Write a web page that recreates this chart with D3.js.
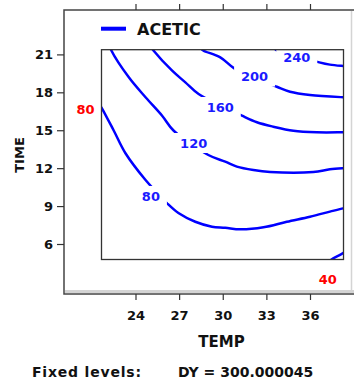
<!DOCTYPE html>
<html>
<head>
<meta charset="utf-8">
<script src="https://cdn.jsdelivr.net/npm/d3@7"></script>
<style>
  body { margin: 0; background: #fff; }
  text { font-family: "DejaVu Sans", sans-serif; font-weight: bold; }
</style>
</head>
<body>
<div id="container"></div>
<script>
// ticks
const tempTicks = [24, 27, 30, 33, 36]
const timeTicks = [6, 9, 12, 15, 18, 21]

// contour lines, [TEMP, TIME]
const levels = [40, 80, 120, 160, 200, 240]
const contour40 = [[37.2, 4.55], [37.6, 4.87], [38.0, 5.1], [38.45, 5.4]]
const contour80 = [[21.6, 16.9], [21.72, 16.68], [22.51, 14.96], [23.31, 13.18], [24.69, 11.06], [25.44, 10.11],
  [26.17, 9.22], [26.95, 8.45], [28.11, 7.76], [29.26, 7.37], [30.17, 7.29], [31.2, 7.16], [32.8, 7.32],
  [34.4, 7.76], [36.0, 8.16], [37.37, 8.56], [38.28, 8.82], [38.5, 8.87]]
const contour120 = [[22.3, 21.45], [22.35, 21.29], [23.54, 19.19], [24.69, 17.61], [25.83, 16.15], [26.63, 14.96],
  [29.01, 13.04], [30.17, 12.51], [30.97, 12.12], [32.11, 11.85], [33.26, 11.7], [36.23, 11.7], [37.37, 11.91],
  [38.28, 11.99], [38.5, 12.0]]
const contour160 = [[25.15, 21.45], [25.25, 21.29], [26.52, 19.71], [27.43, 18.79], [28.34, 17.87], [31.32, 16.15],
  [32.35, 15.63], [33.48, 15.28], [34.86, 14.96], [36.46, 14.84], [38.28, 14.84], [38.5, 14.84]]
const contour200 = [[28.55, 21.4], [28.68, 21.29], [29.83, 20.77], [30.86, 19.84], [33.72, 18.44], [34.63, 18.05],
  [36.0, 17.79], [38.28, 17.61], [38.5, 17.6]]
const contour240 = [[33.6, 21.45], [33.67, 21.35], [36.64, 20.37], [37.37, 20.19], [38.28, 20.08], [38.5, 20.06]]
const contours = [contour40, contour80, contour120, contour160, contour200, contour240]

// inline labels (blue) and edge labels (red), [TEMP, TIME]
const inlineLevels = [80, 120, 160, 200, 240]
const inlineAt = [[25.06, 9.8], [28.0, 13.99], [29.83, 16.84], [32.19, 19.25], [35.09, 20.74]]
const edgeLevels = [80, 40]
const edgeAt = [[20.57, 16.64], [37.23, 3.19]]

const width = 354
const height = 381
const frame = { left: 64, top: 10, right: 352, bottom: 294 }
const plot = { left: 101.5, top: 49.7, right: 343.5, bottom: 259.5 }

const svg = d3.select('#container')
  .append('svg')
  .attr('width', width)
  .attr('height', height)
  .attr('viewBox', [0, 0, width, height])

const x = d3.scaleLinear().domain([24, 36]).range([135.5, 310])
const y = d3.scaleLinear().domain([6, 21]).range([244, 54.4])

// outer frame
svg.append('rect')
  .attr('x', frame.left).attr('y', frame.top)
  .attr('width', width - frame.left + 2).attr('height', frame.bottom - frame.top)
  .attr('fill', 'white')
  .attr('stroke', '#444')
  .attr('stroke-width', 1.5)
svg.append('line')
  .attr('x1', frame.left + 1).attr('x2', width)
  .attr('y1', frame.bottom - 2.5).attr('y2', frame.bottom - 2.5)
  .attr('stroke', '#d4d4d4').attr('stroke-width', 3)
svg.append('line')
  .attr('x1', frame.right - 0.5).attr('x2', frame.right - 0.5)
  .attr('y1', frame.top + 1).attr('y2', frame.bottom - 1)
  .attr('stroke', '#d4d4d4').attr('stroke-width', 1.5)

// axes
svg.append('g')
  .attr('transform', `translate(0,${frame.bottom})`)
  .call(d3.axisBottom(x).tickValues(tempTicks).tickSize(6).tickPadding(11))
svg.append('g')
  .attr('transform', `translate(0,${frame.top})`)
  .call(d3.axisTop(x).tickValues(tempTicks).tickSize(6).tickFormat(''))
svg.append('g')
  .attr('transform', `translate(${frame.left},0)`)
  .call(d3.axisLeft(y).tickValues(timeTicks).tickSize(7).tickPadding(4))

svg.selectAll('.domain').remove()
svg.selectAll('.tick line').attr('stroke', '#333').attr('stroke-width', 1.2)
svg.selectAll('.tick text')
  .style('font-family', '"DejaVu Sans", sans-serif')
  .style('font-weight', 'bold')
  .style('font-size', '13px')
  .attr('fill', '#111')

// axis titles
svg.append('text')
  .attr('transform', `translate(24,155) rotate(-90)`)
  .attr('text-anchor', 'middle')
  .style('font-size', '13px')
  .attr('fill', '#111')
  .text('TIME')
svg.append('text')
  .attr('x', 221.5).attr('y', 347)
  .attr('text-anchor', 'middle')
  .style('font-size', '15px')
  .attr('fill', '#111')
  .text('TEMP')

// legend
svg.append('line')
  .attr('x1', 101).attr('x2', 126)
  .attr('y1', 28.7).attr('y2', 28.7)
  .attr('stroke', '#0000ff').attr('stroke-width', 4)
svg.append('text')
  .attr('x', 137).attr('y', 35)
  .style('font-size', '16px')
  .attr('fill', '#111')
  .text('ACETIC')

// contours
svg.append('clipPath').attr('id', 'clip')
  .append('rect')
  .attr('x', plot.left).attr('y', plot.top)
  .attr('width', plot.right - plot.left).attr('height', plot.bottom - plot.top)

const line = d3.line()
  .x(d => x(d[0]))
  .y(d => y(d[1]))
  .curve(d3.curveCatmullRom)

svg.append('g')
  .attr('clip-path', 'url(#clip)')
  .selectAll('path')
  .data(contours)
  .join('path')
  .attr('d', line)
  .attr('fill', 'none')
  .attr('stroke', '#0000ff')
  .attr('stroke-width', 2.5)

// inline labels, with a white box cutting the line
const lab = svg.append('g')
  .selectAll('g')
  .data(inlineLevels)
  .join('g')
  .attr('transform', (d, i) => `translate(${x(inlineAt[i][0])},${y(inlineAt[i][1])})`)
lab.append('rect')
  .attr('x', d => -String(d).length * 4.5 - 7)
  .attr('y', -10)
  .attr('width', d => String(d).length * 9 + 14)
  .attr('height', 20)
  .attr('fill', 'white')
lab.append('text')
  .attr('text-anchor', 'middle')
  .attr('dy', '0.36em')
  .style('font-size', '13px')
  .attr('fill', '#1a1aff')
  .text(d => d)

// plot box
svg.append('rect')
  .attr('x', plot.left).attr('y', plot.top)
  .attr('width', plot.right - plot.left).attr('height', plot.bottom - plot.top)
  .attr('fill', 'none')
  .attr('stroke', '#333')
  .attr('stroke-width', 1.3)

// edge labels
svg.append('g')
  .selectAll('text')
  .data(edgeLevels)
  .join('text')
  .attr('x', (d, i) => x(edgeAt[i][0]))
  .attr('y', (d, i) => y(edgeAt[i][1]))
  .attr('text-anchor', 'middle')
  .attr('dy', '0.36em')
  .style('font-size', '13px')
  .attr('fill', '#ff0000')
  .text(d => d)

// footer
svg.append('text')
  .attr('x', 32).attr('y', 377)
  .style('font-size', '14px')
  .style('letter-spacing', '0.8px')
  .attr('fill', '#111')
  .text('Fixed levels:')
svg.append('text')
  .attr('x', 178).attr('y', 377)
  .style('font-size', '14px')
  .attr('fill', '#111')
  .text('DY = 300.000045')
</script>
</body>
</html>
